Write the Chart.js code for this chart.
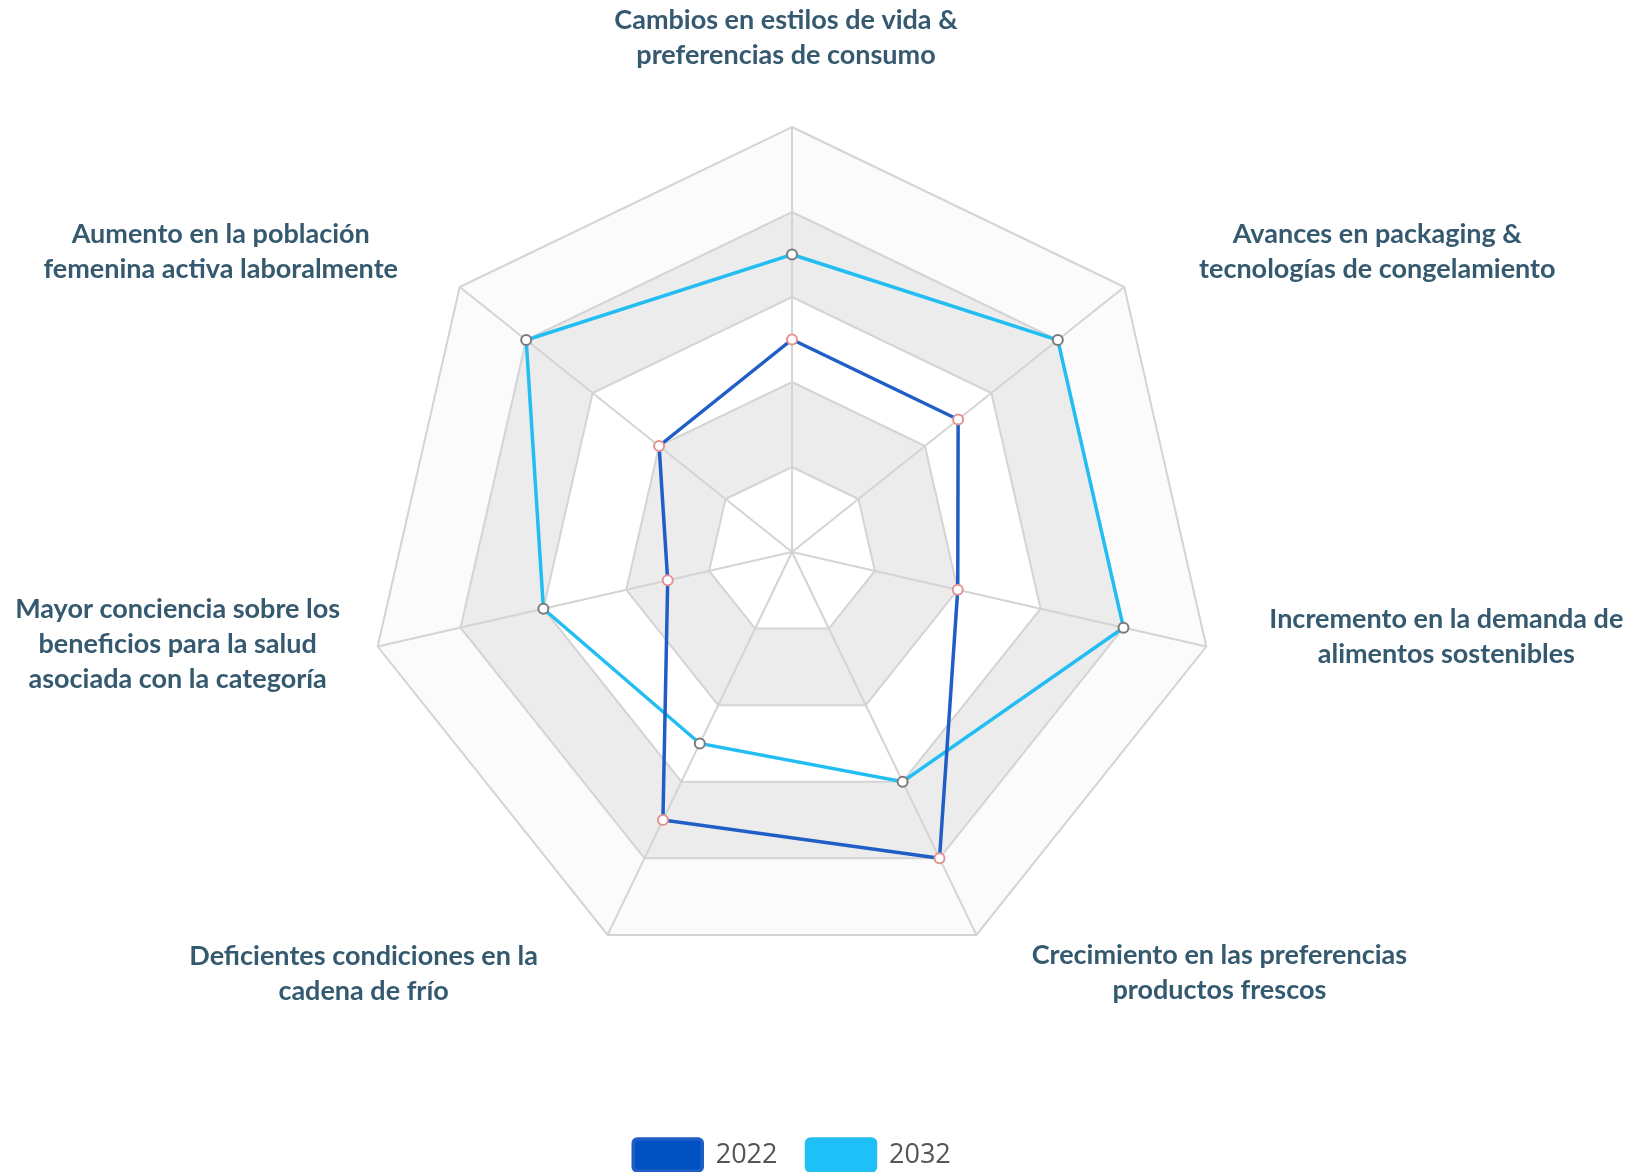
<!DOCTYPE html>
<html lang="es">
<head>
<meta charset="utf-8">
<title>Tendencias - Radar</title>
<script src="https://cdn.jsdelivr.net/npm/chart.js@4.4.1/dist/chart.umd.min.js"></script>
<style>
    html, body { margin: 0; padding: 0; background: #fff; overflow: hidden; }
    #wrap { width: 1634px; height: 1181px; }
</style>
</head>
<body>
<div id="wrap"><canvas id="radarChart" width="1634" height="1181"></canvas></div>
<script>
// =====================================================
// Datos del gráfico
// =====================================================
const categories = [
    ['Cambios en estilos de vida &', 'preferencias de consumo'],
    ['Avances en packaging &', 'tecnologías de congelamiento'],
    ['Incremento en la demanda de', 'alimentos sostenibles'],
    ['Crecimiento en las preferencias', 'productos frescos'],
    ['Deficientes condiciones en la', 'cadena de frío'],
    ['Mayor conciencia sobre los', 'beneficios para la salud', 'asociada con la categoría'],
    ['Aumento en la población', 'femenina activa laboralmente']
];
const seriesNames = ['2022', '2032'];
const values2022 = [2.5, 2.5, 2, 4, 3.5, 1.5, 2];
const values2032 = [3.5, 4, 4, 3, 2.5, 3, 4];
const ringTicks = [0, 1, 2, 3, 4, 5];

// Estilos
const bandColors = ['#ffffff', '#ececec', '#ffffff', '#ececec', '#fbfbfb'];
const gridColor = '#d4d4d4';
const labelColor = '#355a70';
const labelFont = 'bold 27px Lato';
const labelLineHeight = 35;
// desplazamiento de cada etiqueta respecto al vértice exterior de su eje
const labelOffsets = [[-6, -89], [253, -35], [240, -10], [243, 38], [-244, 39], [-200, -2], [-239, -35]];

// Bandas alternadas de fondo
const bandPlugin = {
    id: 'bands',
    beforeDraw(chart) {
        const scale = chart.scales.r;
        const ctx = chart.ctx;
        const n = chart.data.labels.length;
        ctx.save();
        ctx.fillStyle = '#fff';
        ctx.fillRect(0, 0, chart.width, chart.height);
        for (let k = ringTicks.length - 1; k > 0; k--) {
            const r = scale.getDistanceFromCenterForValue(ringTicks[k]);
            ctx.beginPath();
            for (let i = 0; i < n; i++) {
                const p = scale.getPointPosition(i, r);
                if (i === 0) ctx.moveTo(p.x, p.y); else ctx.lineTo(p.x, p.y);
            }
            ctx.closePath();
            ctx.fillStyle = bandColors[k - 1];
            ctx.fill();
        }
        ctx.restore();
    }
};

// Etiquetas de los ejes
const labelPlugin = {
    id: 'axisLabels',
    afterDraw(chart) {
        const scale = chart.scales.r;
        const ctx = chart.ctx;
        ctx.save();
        ctx.font = labelFont;
        ctx.fillStyle = labelColor;
        ctx.textAlign = 'center';
        ctx.textBaseline = 'middle';
        categories.forEach((lines, i) => {
            const p = scale.getPointPosition(i, scale.drawingArea);
            const cx = p.x + labelOffsets[i][0];
            const cy = p.y + labelOffsets[i][1];
            const top = cy - (lines.length - 1) * labelLineHeight / 2;
            lines.forEach((t, j) => ctx.fillText(t, cx, top + j * labelLineHeight));
        });
        ctx.restore();
    }
};

const ctx = document.getElementById('radarChart').getContext('2d');
new Chart(ctx, {
    type: 'radar',
    data: {
        labels: categories,
        datasets: [{
            label: seriesNames[0],
            data: values2022,
            borderColor: '#1f5ec6',
            backgroundColor: '#0052c2',
            borderWidth: 3.5,
            fill: false,
            pointRadius: 5,
            pointBorderWidth: 2,
            pointBackgroundColor: '#ffffff',
            pointBorderColor: '#e39292'
        }, {
            label: seriesNames[1],
            data: values2032,
            borderColor: '#22bdf2',
            backgroundColor: '#1ec0f8',
            borderWidth: 3.5,
            fill: false,
            pointRadius: 5,
            pointBorderWidth: 2,
            pointBackgroundColor: '#ffffff',
            pointBorderColor: '#7a7a7a'
        }]
    },
    options: {
        responsive: false,
        animation: false,
        layout: {
            padding: { left: 367, right: 417, top: 127, bottom: 0 }
        },
        scales: {
            r: {
                min: ringTicks[0],
                max: ringTicks[ringTicks.length - 1],
                ticks: { stepSize: 1, display: false },
                grid: { color: gridColor, lineWidth: 2 },
                angleLines: { color: gridColor, lineWidth: 2 },
                pointLabels: { display: false }
            }
        },
        plugins: {
            tooltip: { enabled: false },
            legend: {
                position: 'bottom',
                title: {
                    display: true,
                    text: ' ',
                    font: { size: 12 },
                    padding: { top: 0, bottom: 118.6 }
                },
                labels: {
                    boxWidth: 69,
                    boxHeight: 32,
                    padding: 29,
                    useBorderRadius: true,
                    borderRadius: 4,
                    color: '#555555',
                    font: { family: 'Open Sans', size: 27 }
                }
            }
        }
    },
    plugins: [bandPlugin, labelPlugin]
});
</script>
</body>
</html>
